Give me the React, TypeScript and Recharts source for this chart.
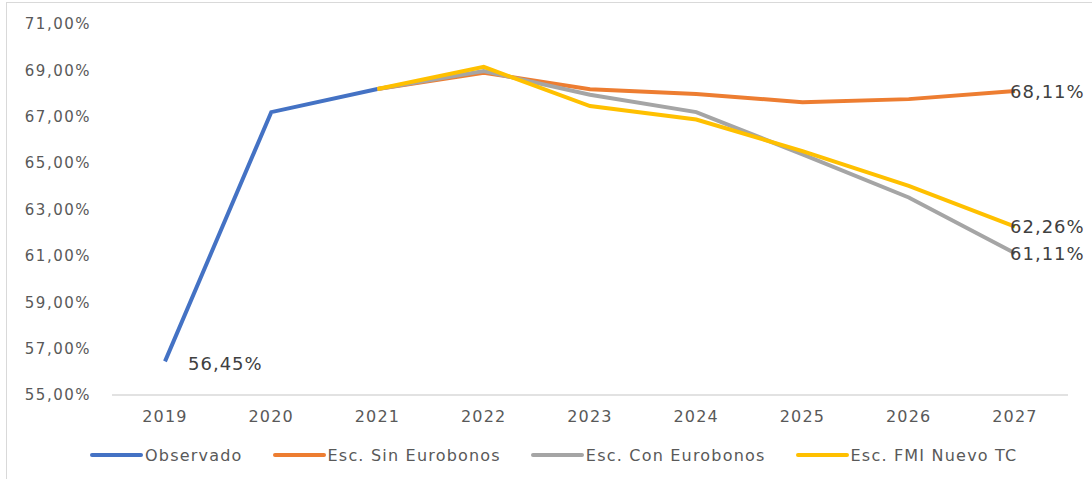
import React from "react";
import { CartesianGrid, Legend, Line, LineChart, XAxis, YAxis } from "recharts";

const years = ["2019", "2020", "2021", "2022", "2023", "2024", "2025", "2026", "2027"];
const observado = [56.45, 67.2, 68.2, null, null, null, null, null, null];
const sinEurobonos = [null, null, 68.2, 68.9, 68.19, 67.98, 67.63, 67.76, 68.11];
const conEurobonos = [null, null, 68.2, 68.97, 67.95, 67.2, 65.38, 63.52, 61.11];
const fmiNuevoTC = [null, null, 68.2, 69.15, 67.46, 66.88, 65.52, 64.02, 62.26];
const yTicks = [55, 57, 59, 61, 63, 65, 67, 69, 71];

const data = years.map((year, i) => ({
  year,
  observado: observado[i],
  sin: sinEurobonos[i],
  con: conEurobonos[i],
  fmi: fmiNuevoTC[i],
}));

const series = [
  { key: "observado", name: "Observado", color: "#4472C4", labelAt: 0 },
  { key: "sin", name: "Esc. Sin Eurobonos", color: "#ED7D31", labelAt: 8 },
  { key: "con", name: "Esc. Con Eurobonos", color: "#A5A5A5", labelAt: 8 },
  { key: "fmi", name: "Esc. FMI Nuevo TC", color: "#FFC000", labelAt: 8 },
];

const FONT = "'DejaVu Sans', sans-serif";

function pct(v: number) {
  return `${v.toFixed(2).replace(".", ",")}%`;
}

function makeLabel(labelAt: number) {
  return (props: any) => {
    const { x, y, value, index } = props;
    if (index !== labelAt || value == null) return null;
    const dx = labelAt === 0 ? 23 : -5;
    const dy = labelAt === 0 ? 2 : 0;
    return (
      <text
        x={x + dx}
        y={y + dy}
        dominantBaseline="central"
        fill="#404040"
        fontSize={18}
        fontFamily={FONT}
        letterSpacing={1}
      >
        {pct(Number(value))}
      </text>
    );
  };
}

function LegendRow() {
  return (
    <div style={{ display: "flex", alignItems: "center", height: 20, fontFamily: FONT }}>
      {series.map((s) => (
        <div key={s.key} style={{ display: "flex", alignItems: "center", marginRight: 30 }}>
          <span style={{ width: 53, height: 4, background: s.color, borderRadius: 2, marginRight: 2 }} />
          <span style={{ fontSize: 16, color: "#595959", letterSpacing: 1.2 }}>{s.name}</span>
        </div>
      ))}
    </div>
  );
}

export default function App() {
  return (
    <div
      style={{
        position: "absolute",
        left: 0,
        top: 0,
        width: 1092,
        height: 479,
        overflow: "hidden",
        background: "#fff",
      }}
    >
      <div
        style={{
          position: "absolute",
          left: 6,
          top: 2,
          width: 1100,
          height: 500,
          border: "1.5px solid #d9d9d9",
        }}
      />
      <div style={{ position: "absolute", left: 0, top: 0 }}>
        <LineChart width={1092} height={479} data={data} margin={{ top: 24, right: 24, bottom: 34, left: 12 }}>
          <CartesianGrid vertical={false} horizontal={false} />
          <XAxis
            dataKey="year"
            padding={{ left: 53, right: 53 }}
            tickLine={false}
            axisLine={{ stroke: "#d9d9d9", strokeWidth: 1.5 }}
            tick={{ fill: "#595959", fontSize: 16, fontFamily: FONT, letterSpacing: 1.2 }}
            tickMargin={10}
            height={30}
          />
          <YAxis
            domain={[55, 71]}
            ticks={yTicks}
            width={100}
            tickLine={false}
            axisLine={false}
            tickMargin={15}
            tickFormatter={(v) => pct(Number(v))}
            tick={{ fill: "#595959", fontSize: 15, fontFamily: FONT, letterSpacing: 1.5 }}
          />
          <Legend
            verticalAlign="bottom"
            content={() => <LegendRow />}
            wrapperStyle={{ top: 445, left: 90, width: 1000, height: 20 }}
          />
          {series.map((s) => (
            <Line
              key={s.key}
              type="linear"
              dataKey={s.key}
              name={s.name}
              stroke={s.color}
              strokeWidth={4}
              dot={false}
              activeDot={false}
              connectNulls={false}
              isAnimationActive={false}
              label={makeLabel(s.labelAt)}
            />
          ))}
        </LineChart>
      </div>
    </div>
  );
}
